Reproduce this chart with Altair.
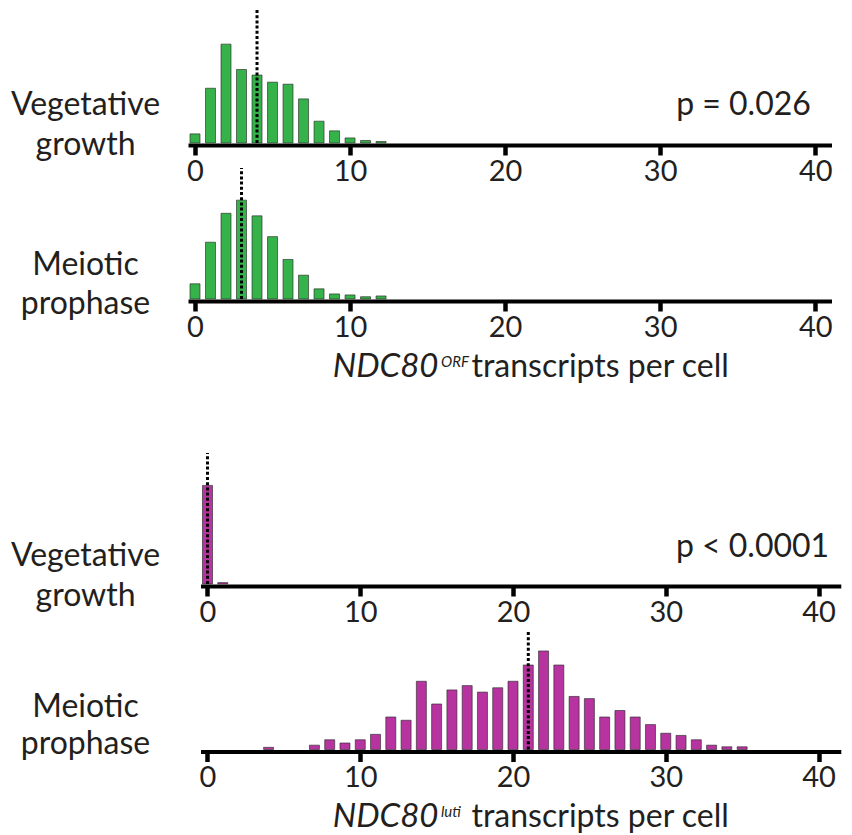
import altair as alt
import pandas as pd

# ---------------- data (percent of cells per transcript count) ----------------
ORF_BINS = list(range(13))
VEG_ORF = [1.8, 10.8, 19.5, 14.5, 13.4, 12.0, 11.6, 8.7, 4.3, 2.4, 1.0, 0.5, 0.3]
MEI_ORF = [3.0, 11.2, 16.9, 19.5, 16.4, 12.3, 7.8, 4.7, 2.0, 1.0, 0.8, 0.45, 0.6]

LUTI_VEG_BINS = [0, 1]
VEG_LUTI = [98.6, 1.4]

LUTI_MEI_BINS = [4, 7, 8, 9, 10, 11, 12, 13, 14, 15, 16, 17, 18, 19, 20, 21, 22,
                 23, 24, 25, 26, 27, 28, 29, 30, 31, 32, 33, 34, 35]
MEI_LUTI = [0.2, 0.4, 0.9, 0.6, 0.9, 1.4, 3.0, 2.7, 6.3, 4.2, 5.5, 5.9, 5.3, 5.7,
            6.3, 7.8, 9.1, 7.8, 4.9, 4.7, 3.0, 3.6, 3.0, 2.3, 1.5, 1.3, 0.9, 0.4,
            0.25, 0.25]

MEDIANS = [4, 3, 0, 21]
P_TEXT = ["p = 0.026", "p < 0.0001"]
TICKS = [0, 10, 20, 30, 40]

GREEN = "#35b34a"
MAGENTA = "#b7339f"
INK = "#231f20"
FONT = "Lato"
W = 652


def txt(s, x, y, size=32, style="normal", align="left"):
    return alt.Chart(pd.DataFrame({"a": [0]})).mark_text(
        text=s, font=FONT, fontSize=size, fontStyle=style, align=align,
        baseline="alphabetic", color=INK
    ).encode(x=alt.value(x), y=alt.value(y))


def panel(bins, vals, color, h, xdom, xrng, pxper, median, line_len, texts):
    df = pd.DataFrame({"n": bins, "pct": vals})
    xs = alt.X(
        "n:Q",
        scale=alt.Scale(domain=xdom, range=xrng, nice=False, zero=False),
        axis=alt.Axis(values=TICKS, title=None, grid=False, offset=2,
                      domainWidth=4, domainColor="black", domainCap="square",
                      tickWidth=4.5, tickSize=10, tickColor="black",
                      labelFont=FONT, labelFontSize=29, labelColor=INK,
                      labelPadding=2, labelFlush=False, labelOverlap=False),
    )
    ys = alt.Y("pct:Q", scale=alt.Scale(domain=[0, h / pxper], nice=False), axis=None)
    bars = alt.Chart(df).mark_bar(
        size=10, fill=color, stroke="#2b2b2b", strokeWidth=0.8, strokeOpacity=0.8
    ).encode(x=xs, y=ys)
    med = alt.Chart(pd.DataFrame({"n": [median]})).mark_rule(
        color="black", strokeWidth=3, strokeDash=[3, 2.2]
    ).encode(x="n:Q", y=alt.value(h), y2=alt.value(h - line_len))
    return alt.layer(bars, med, *texts).properties(width=W, height=h)


TOP_DOM, TOP_RNG = [0, 40.6], [0, 639.5]
BOT_DOM, BOT_RNG = [0, 41], [12.5, 648.8]
LX = -104.5

h1, h2, h3, h4 = 133, 156, 285, 165.5


def axis_title(sup, h, dy):
    return [
        txt("NDC80", 248.5, h + dy, size=33, style="italic", align="right"),
        txt(sup, 251, h + dy - 10, size=15, style="italic"),
        txt("transcripts per cell", 281.5, h + dy),
    ]


p1 = panel(ORF_BINS, VEG_ORF, GREEN, h1, TOP_DOM, TOP_RNG, 5.07, MEDIANS[0], 133, [
    txt("Vegetative", LX, h1 - 28, align="center"),
    txt("growth", LX, h1 + 12, align="center"),
    txt(P_TEXT[0], 553.5, h1 - 28, align="center"),
])
p2 = panel(ORF_BINS, MEI_ORF, GREEN, h2, TOP_DOM, TOP_RNG, 5.07, MEDIANS[1], 131, [
    txt("Meiotic", LX, h2 - 24, align="center"),
    txt("prophase", LX, h2 + 15, align="center"),
    *axis_title("ORF", h2, 78),
])
p3 = panel(LUTI_VEG_BINS, VEG_LUTI, MAGENTA, h3, BOT_DOM, BOT_RNG, 1.0, MEDIANS[2], 131, [
    txt("Vegetative", LX, h3 - 18, align="center"),
    txt("growth", LX, h3 + 22, align="center"),
    txt(P_TEXT[1], 562.5, h3 - 27, align="center"),
])
p4 = panel(LUTI_MEI_BINS, MEI_LUTI, MAGENTA, h4, BOT_DOM, BOT_RNG, 10.83, MEDIANS[3], 118.5, [
    txt("Meiotic", LX, h4 - 32.5, align="center"),
    txt("prophase", LX, h4 + 4.5, align="center"),
    *axis_title("luti", h4, 77.5),
])

chart = alt.vconcat(p1, p2, p3, p4, spacing=0, bounds="flush").properties(
    padding={"left": 2, "top": 0, "right": 0, "bottom": 0}
).configure_view(stroke=None)

chart.save("out.html", embed_options={"renderer": "svg", "actions": False})
